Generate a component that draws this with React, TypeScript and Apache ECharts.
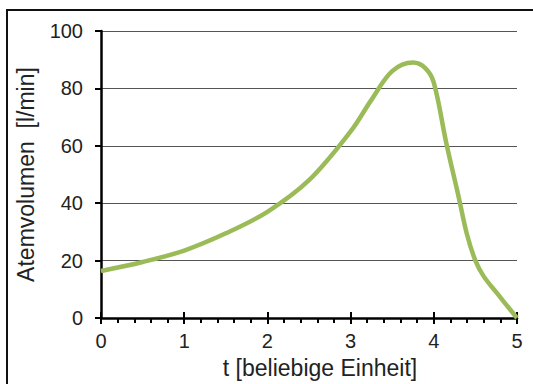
import React, { useEffect, useRef } from "react";
import * as echarts from "echarts";

const tValues = [0, 0.5, 1, 1.5, 2, 2.5, 3, 3.25, 3.5, 3.75, 3.9, 4, 4.15, 4.3, 4.4, 4.5, 4.6, 4.75, 5];
const volume = [16.4, 19.5, 23.5, 29.5, 37, 48, 65, 76, 86, 89, 87, 82, 61, 42, 29, 20, 14.5, 9, 0];
const yTicks = [0, 20, 40, 60, 80, 100];
const xTicks = [0, 1, 2, 3, 4, 5];

const FONT = "'Liberation Sans', Arial, sans-serif";
const TICK = "#000";

export default function App() {
  const ref = useRef<HTMLDivElement>(null);
  useEffect(() => {
    if (!ref.current) return;
    const chart = echarts.init(ref.current, undefined, { renderer: "svg" });
    const common = {
      type: "value" as const,
      min: xTicks[0],
      max: xTicks[xTicks.length - 1],
      interval: 1,
    };
    chart.setOption({
      animation: false,
      backgroundColor: "#fff",
      textStyle: { fontFamily: FONT },
      graphic: [
        {
          type: "rect",
          shape: { x: 7, y: 10, width: 560, height: 420 },
          style: { fill: "none", stroke: "#111", lineWidth: 2 },
          silent: true,
          z: -1,
        },
      ],
      grid: { left: 101, right: 16, top: 31, bottom: 66 },
      xAxis: [
        {
          ...common,
          position: "bottom",
          name: "t [beliebige Einheit]",
          nameLocation: "middle",
          nameGap: 38,
          nameTextStyle: { fontSize: 23, color: "#222", fontFamily: FONT, padding: [0, 0, 0, 22] },
          axisLine: { show: true, onZero: false, lineStyle: { color: "#000", width: 2.5 } },
          axisTick: { show: true, inside: false, length: 6, lineStyle: { color: TICK, width: 2 } },
          minorTick: { show: true, splitNumber: 5, length: 5, lineStyle: { color: TICK, width: 2 } },
          axisLabel: { margin: 13, fontSize: 20, color: "#222", fontFamily: FONT },
          splitLine: { show: false },
        },
        {
          ...common,
          position: "bottom",
          axisLine: { show: false, onZero: false },
          axisTick: { show: true, inside: true, length: 6, lineStyle: { color: TICK, width: 2 } },
          axisLabel: { show: false },
          splitLine: { show: false },
        },
      ],
      yAxis: {
        type: "value",
        min: yTicks[0],
        max: yTicks[yTicks.length - 1],
        interval: 20,
        name: "Atemvolumen  [l/min]",
        nameLocation: "middle",
        nameGap: 64,
        nameTextStyle: { fontSize: 23, color: "#222", fontFamily: FONT },
        axisLine: { show: true, lineStyle: { color: "#000", width: 2.5 } },
        axisTick: { show: true, inside: false, length: 6, lineStyle: { color: TICK, width: 2 } },
        axisLabel: { margin: 18, fontSize: 20, color: "#222", fontFamily: FONT },
        splitLine: { show: true, lineStyle: { color: "#555", width: 1 } },
      },
      series: [
        {
          type: "line",
          data: tValues.map((t, i) => [t, volume[i]]),
          smooth: 0.35,
          symbol: "none",
          lineStyle: { color: "#9BBB59", width: 4.5 },
          clip: false,
        },
      ],
    });
    return () => chart.dispose();
  }, []);
  return (
    <div
      ref={ref}
      style={{ position: "fixed", left: 0, top: 0, width: 533, height: 384 }}
    />
  );
}
